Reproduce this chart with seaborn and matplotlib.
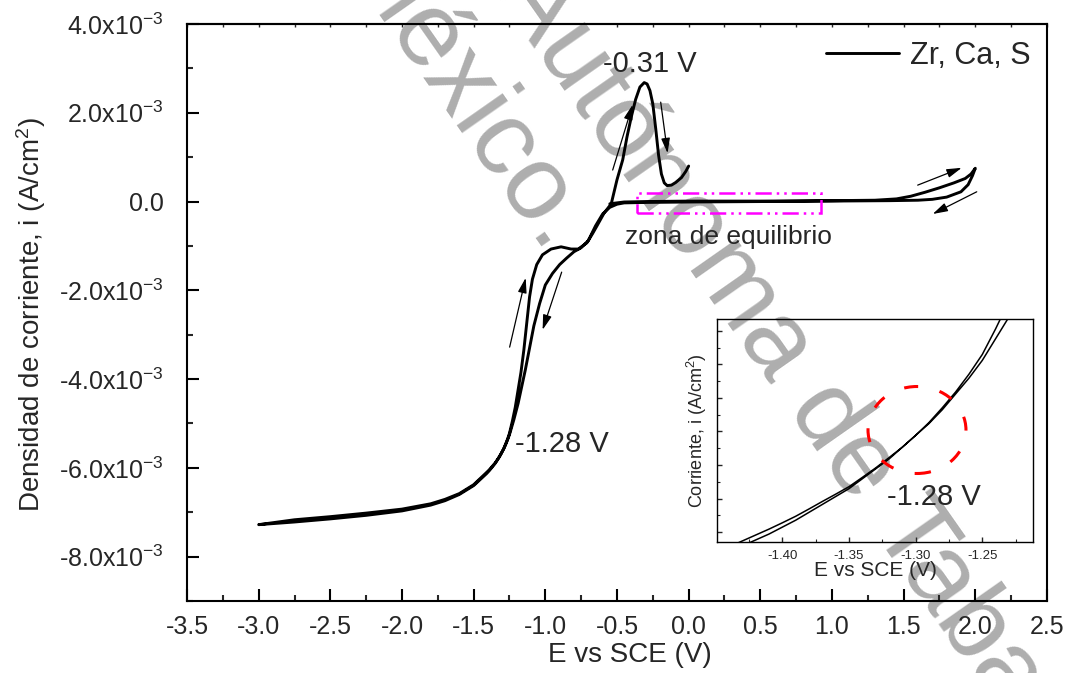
import numpy as np
import pandas as pd
import matplotlib
matplotlib.use("Agg")
import matplotlib.pyplot as plt
import seaborn as sns
from matplotlib.ticker import MultipleLocator, FuncFormatter, AutoMinorLocator
from matplotlib.patches import Rectangle, Ellipse

# ---- Cyclic voltammogram, Zr/Ca/S coating (current density in mA/cm^2) ----
# Anodic sweep from rest potential up to +2.0 V
E_fwd = [-0.55, -0.45, -0.30, 0.00, 0.50, 1.00, 1.30, 1.45, 1.55, 1.65, 1.75,
         1.85, 1.93, 1.97, 2.00]
i_fwd = [-0.05, -0.01, 0.00, 0.01, 0.01, 0.02, 0.03, 0.06, 0.12, 0.21, 0.31,
         0.42, 0.52, 0.62, 0.75]

# Reverse sweep from +2.0 V down to -3.0 V
E_rev = [2.00, 1.98, 1.95, 1.90, 1.80, 1.70, 1.60, 1.40, 1.00, 0.50,
         0.00, -0.30, -0.45, -0.50, -0.55, -0.60, -0.65, -0.70, -0.75, -0.80,
         -0.85, -0.90, -0.95, -1.00, -1.04, -1.08, -1.11, -1.14, -1.17, -1.19,
         -1.21, -1.22, -1.23, -1.24, -1.25, -1.26, -1.27, -1.28, -1.29, -1.30,
         -1.31, -1.32, -1.33, -1.34, -1.35, -1.36, -1.37, -1.38, -1.39, -1.40,
         -1.41, -1.42, -1.43, -1.44, -1.45, -1.50, -1.60, -1.70, -1.80, -2.00,
         -2.25, -2.50, -2.75, -3.00]
i_rev = [0.75, 0.58, 0.38, 0.22, 0.10, 0.05, 0.03, 0.02, 0.01, 0.00,
         -0.01, -0.02, -0.03, -0.06, -0.13, -0.28, -0.55, -0.88, -1.04, -1.13,
         -1.27, -1.42, -1.62, -1.88, -2.30, -2.80, -3.30, -3.80, -4.25, -4.55,
         -4.80, -4.92, -5.03, -5.14, -5.25, -5.34, -5.42, -5.50, -5.57, -5.63,
         -5.69, -5.75, -5.80, -5.85, -5.90, -5.94, -5.98, -6.02, -6.06, -6.095,
         -6.13, -6.16, -6.19, -6.22, -6.25, -6.40, -6.60, -6.74, -6.84, -6.97,
         -7.07, -7.15, -7.22, -7.28]

# Return sweep from -3.0 V back up to 0.0 V (oxidation peak at -0.31 V)
E_ret = [-3.00, -2.75, -2.50, -2.25, -2.00, -1.80, -1.70, -1.60, -1.50, -1.45,
         -1.44, -1.43, -1.42, -1.41, -1.40, -1.39, -1.38, -1.37, -1.36, -1.35,
         -1.34, -1.33, -1.32, -1.31, -1.30, -1.29, -1.28, -1.27, -1.26, -1.25,
         -1.24, -1.23, -1.22, -1.21, -1.19, -1.17, -1.15, -1.13, -1.11, -1.09,
         -1.06, -1.02, -0.96, -0.89, -0.82, -0.77, -0.71, -0.67, -0.64, -0.59,
         -0.54, -0.50, -0.46, -0.43, -0.40, -0.37, -0.34, -0.31, -0.29, -0.27,
         -0.25, -0.23, -0.21, -0.19, -0.17, -0.15, -0.12, -0.09, -0.05, -0.02,
         0.00]
i_ret = [-7.28, -7.17, -7.10, -7.02, -6.93, -6.81, -6.71, -6.58, -6.38, -6.225,
         -6.195, -6.165, -6.135, -6.105, -6.073, -6.04, -6.003, -5.965, -5.928, -5.89,
         -5.843, -5.795, -5.743, -5.69, -5.63, -5.565, -5.49, -5.41, -5.32, -5.22,
         -5.09, -4.95, -4.80, -4.64, -4.25, -3.85, -3.35, -2.75, -2.15, -1.75,
         -1.42, -1.20, -1.07, -1.02, -1.07, -1.07, -0.93, -0.72, -0.55, -0.26,
         -0.05, 0.49, 0.94, 1.46, 1.91, 2.30, 2.58, 2.68, 2.65, 2.50,
         2.20, 1.65, 1.05, 0.62, 0.42, 0.36, 0.37, 0.43, 0.54, 0.68,
         0.80]

series_name = "Zr, Ca, S"
x_ticks_main = [-3.5, -3.0, -2.5, -2.0, -1.5, -1.0, -0.5, 0.0, 0.5, 1.0, 1.5, 2.0, 2.5]

E_all = E_fwd + E_rev + E_ret
i_all = np.array(i_fwd + i_rev + i_ret) * 1e-3   # A/cm^2
df = pd.DataFrame({"E": E_all, "i": i_all})

# ---- style ----
sns.set_theme(style="ticks")
plt.rcParams["font.family"] = ["Liberation Sans", "DejaVu Sans"]
plt.rcParams["mathtext.fontset"] = "custom"
plt.rcParams["mathtext.rm"] = "Liberation Sans"
plt.rcParams["mathtext.it"] = "Liberation Sans:italic"
plt.rcParams["mathtext.bf"] = "Liberation Sans:bold"
plt.rcParams["mathtext.default"] = "regular"
plt.rcParams["axes.unicode_minus"] = False

fig = plt.figure(figsize=(10.68, 6.73), dpi=100)
ax = fig.add_axes([0.1751, 0.1070, 0.8052, 0.8573])

sns.lineplot(data=df, x="E", y="i", sort=False, estimator=None, color="black",
             lw=2.1, ax=ax, label=series_name)

ax.set_xlim(-3.5, 2.5)
ax.set_ylim(-9e-3, 4e-3)
ax.set_xticks(x_ticks_main)
ax.xaxis.set_minor_locator(MultipleLocator(0.25))
ax.yaxis.set_major_locator(MultipleLocator(2e-3))
ax.yaxis.set_minor_locator(MultipleLocator(1e-3))


def sci_fmt(v, pos):
    if abs(v) < 1e-12:
        return "0.0"
    return f"{v * 1e3:.1f}x10$^{{-3}}$"


ax.yaxis.set_major_formatter(FuncFormatter(sci_fmt))
ax.xaxis.set_major_formatter(FuncFormatter(lambda v, p: f"{v:.1f}"))

ax.tick_params(axis="both", which="major", direction="in", length=8.5, width=1.5,
               labelsize=18, color="black")
ax.tick_params(axis="both", which="minor", direction="in", length=4.5, width=1.5)
ax.tick_params(axis="x", which="major", pad=10)
ax.tick_params(axis="y", which="major", pad=17)
for s in ax.spines.values():
    s.set_linewidth(1.5)
    s.set_color("black")
    s.set_visible(True)

top = ax.secondary_xaxis("top")
top.xaxis.set_major_locator(MultipleLocator(0.25))
top.tick_params(direction="in", length=2.5, width=1.0, labeltop=False, labelbottom=False)
top.spines["top"].set_linewidth(1.5)

ax.set_xlabel("E vs SCE (V)", fontsize=20)
ax.set_ylabel("Densidad de corriente, i (A/cm$^2$)", fontsize=20)
ax.xaxis.set_label_coords(0.515, -0.071)
ax.yaxis.set_label_coords(-0.162, 0.496)

ax.legend(loc="upper right", frameon=False, fontsize=22, handlelength=2.4,
          handletextpad=0.35, borderaxespad=0.15)

# annotations
ax.text(-0.60, 3.10e-3, "-0.31 V", fontsize=21, ha="left", va="center")
ax.text(-1.214, -5.46e-3, "-1.28 V", fontsize=21, ha="left", va="center")
ax.text(0.28, -0.80e-3, "zona de equilibrio", fontsize=19, ha="center", va="center")

ax.add_patch(Rectangle((-0.36, -0.26e-3), 1.28, 0.45e-3, fill=False,
                       edgecolor="#FF00FF", lw=1.8,
                       linestyle=(0, (6.5, 2, 1, 2, 1, 2)), zorder=3))

sweep_arrows = [((-1.249, -3.28e-3), (-1.137, -1.72e-3)),
                ((-0.886, -1.59e-3), (-1.019, -2.89e-3)),
                ((-0.530, 0.71e-3), (-0.391, 2.18e-3)),
                ((-0.195, 2.24e-3), (-0.147, 1.09e-3)),
                ((1.598, 0.37e-3), (1.905, 0.76e-3)),
                ((2.010, 0.22e-3), (1.703, -0.28e-3))]
for tail, head in sweep_arrows:
    ax.annotate("", xy=head, xytext=tail,
                arrowprops=dict(arrowstyle="-|>,head_length=0.75,head_width=0.22",
                                color="black", lw=0.9, shrinkA=0, shrinkB=0))

# repository watermark
wm = dict(transform=fig.transFigure, rotation_mode="anchor", rotation=-55,
          ha="left", va="baseline", fontsize=76, color="#AEAEAE", zorder=0.4,
          clip_on=False)
ax.text(0.4625, 1.0149, "Autónoma de Tabasco", **wm)
ax.text(0.3127, 1.055, "México.", **wm)

# ---- inset: zoom around -1.28 V ----
axins = fig.add_axes([0.6713, 0.1947, 0.2959, 0.3314])
axins.set_facecolor("none")
sns.lineplot(data=df, x="E", y="i", sort=False, estimator=None, color="black",
             lw=1.1, ax=axins, legend=False)
axins.set_xlim(-1.449, -1.212)
axins.set_ylim(-6.17e-3, -5.04e-3)
axins.xaxis.set_major_locator(MultipleLocator(0.05))
axins.xaxis.set_minor_locator(MultipleLocator(0.025))
axins.yaxis.set_major_locator(MultipleLocator(1.7e-4))
axins.yaxis.set_minor_locator(AutoMinorLocator(2))
axins.xaxis.set_major_formatter(FuncFormatter(lambda v, p: f"{v:.2f}"))
axins.yaxis.set_major_formatter(FuncFormatter(lambda v, p: ""))
axins.tick_params(axis="both", which="major", direction="in", length=3.5, width=1.0,
                  labelsize=9.5, pad=6)
axins.tick_params(axis="both", which="minor", direction="in", length=2, width=0.8)
for s in axins.spines.values():
    s.set_linewidth(1.0)
    s.set_color("black")
    s.set_visible(True)
axins.set_xlabel("E vs SCE (V)", fontsize=15, labelpad=-1)
axins.set_ylabel("Corriente, i (A/cm$^2$)", fontsize=13, labelpad=0)
axins.text(0.538, 0.202, "-1.28 V", fontsize=21, ha="left", va="center",
           transform=axins.transAxes)
axins.add_patch(Ellipse((0.633, 0.502), 0.31, 0.39, transform=axins.transAxes,
                        fill=False, edgecolor="#FF0000", lw=2.2,
                        linestyle=(0, (4.6, 7.2)), zorder=3))

fig.savefig("out.png", dpi=100)
